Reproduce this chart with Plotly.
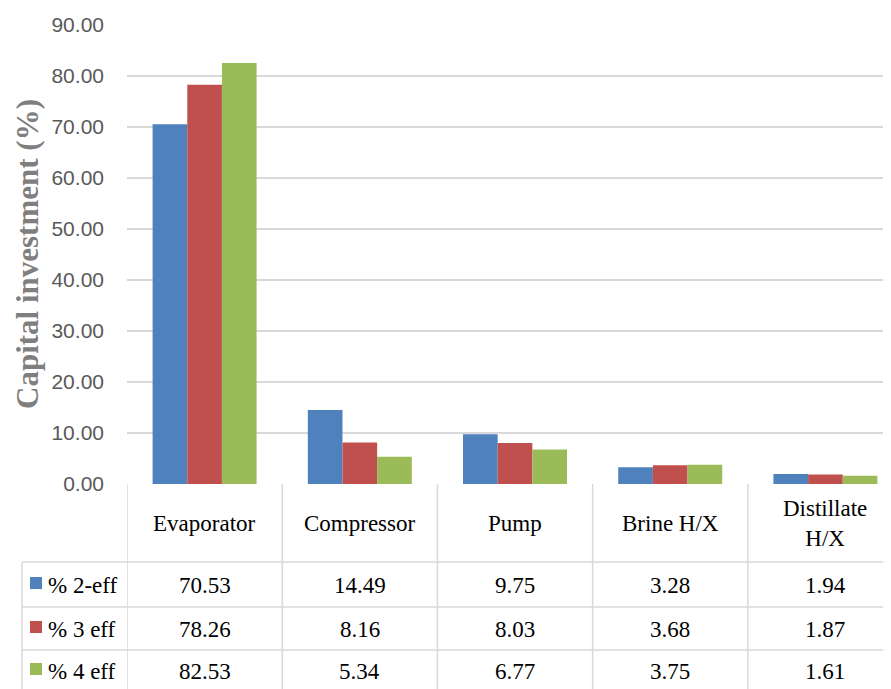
import plotly.graph_objects as go

categories = ["Evaporator", "Compressor", "Pump", "Brine H/X", "Distillate<br>H/X"]
series_names = ["% 2-eff", "% 3 eff", "% 4 eff"]
eff2 = [70.53, 14.49, 9.75, 3.28, 1.94]
eff3 = [78.26, 8.16, 8.03, 3.68, 1.87]
eff4 = [82.53, 5.34, 6.77, 3.75, 1.61]
y_ticks = [0, 10, 20, 30, 40, 50, 60, 70, 80, 90]

colors = ["#4f81bd", "#c0504d", "#9bbb59"]
series = [eff2, eff3, eff4]

OFF = 8  # page body margin
W, H = 891 - OFF, 689 - OFF
L, R_EDGE, TOP, BASE = 127, 891, 25, 484  # page pixels
PW = R_EDGE - L
PH = BASE - TOP

def px2x(px):
    return (px - L) / PW

def py2y(py):
    return (BASE - py) / PH

fig = go.Figure()
for name, vals, c in zip(series_names, series, colors):
    fig.add_trace(go.Bar(x=list(range(len(categories))), y=vals, name=name,
                         marker=dict(color=c, line=dict(width=0))))

grid = "#d9d9d9"
lw = 1.5
shapes = []
for py in [562, 607, 650]:
    shapes.append(dict(type="line", xref="paper", yref="paper",
                       x0=px2x(22), x1=1.02, y0=py2y(py), y1=py2y(py),
                       line=dict(color=grid, width=lw)))
shapes.append(dict(type="line", xref="paper", yref="paper", x0=px2x(22), x1=px2x(22),
                   y0=py2y(562), y1=py2y(700), line=dict(color=grid, width=lw)))
for i in range(len(categories)):
    shapes.append(dict(type="line", xref="x", yref="paper", x0=i - 0.5, x1=i - 0.5,
                       y0=0, y1=py2y(700), line=dict(color=grid, width=lw)))

annotations = []
serif = "Liberation Serif"
row_centers = [585, 629, 671]
for i, cat in enumerate(categories):
    annotations.append(dict(xref="x", yref="paper", x=i, y=py2y(523), text=cat,
                            showarrow=False, font=dict(family=serif, size=23, color="#000000"),
                            xanchor="center", yanchor="middle"))
    for r, vals in enumerate(series):
        annotations.append(dict(xref="x", yref="paper", x=i, y=py2y(row_centers[r]),
                                text=f"{vals[i]:.2f}", showarrow=False,
                                font=dict(family=serif, size=23, color="#000000"),
                                xanchor="center", yanchor="middle"))
for r, (name, c) in enumerate(zip(series_names, colors)):
    cy = row_centers[r] - 2
    shapes.append(dict(type="rect", xref="paper", yref="paper",
                       x0=px2x(30), x1=px2x(42), y0=py2y(cy - 6), y1=py2y(cy + 6),
                       fillcolor=c, line=dict(width=0)))
    annotations.append(dict(xref="paper", yref="paper", x=px2x(46), y=py2y(row_centers[r]),
                            text=name, showarrow=False,
                            font=dict(family=serif, size=23, color="#000000"),
                            xanchor="left", yanchor="middle"))

annotations.append(dict(xref="paper", yref="paper", x=px2x(27), y=py2y(254),
                        text="<b>Capital investment (%)</b>", showarrow=False, textangle=-90,
                        font=dict(family=serif, size=31, color="#7f7f7f"),
                        xanchor="center", yanchor="middle"))

fig.update_layout(
    width=W, height=H,
    margin=dict(l=L - OFF, r=0, t=TOP - OFF, b=H - (BASE - OFF), pad=0),
    paper_bgcolor="white", plot_bgcolor="white",
    barmode="group", bargap=0.33, bargroupgap=0,
    showlegend=False,
    shapes=shapes, annotations=annotations,
    xaxis=dict(range=[-0.5, 4.5 - 12 / 155], showticklabels=False, showgrid=False,
               zeroline=False, showline=False, ticks=""),
    yaxis=dict(range=[0, 90], tickvals=y_ticks, tickformat=".2f",
               showgrid=True, gridcolor=grid, gridwidth=lw, zeroline=False, showline=False,
               tickfont=dict(family="Liberation Sans", size=21, color="#595959"),
               ticklabelstandoff=22),
)

fig.write_html("out.html")
